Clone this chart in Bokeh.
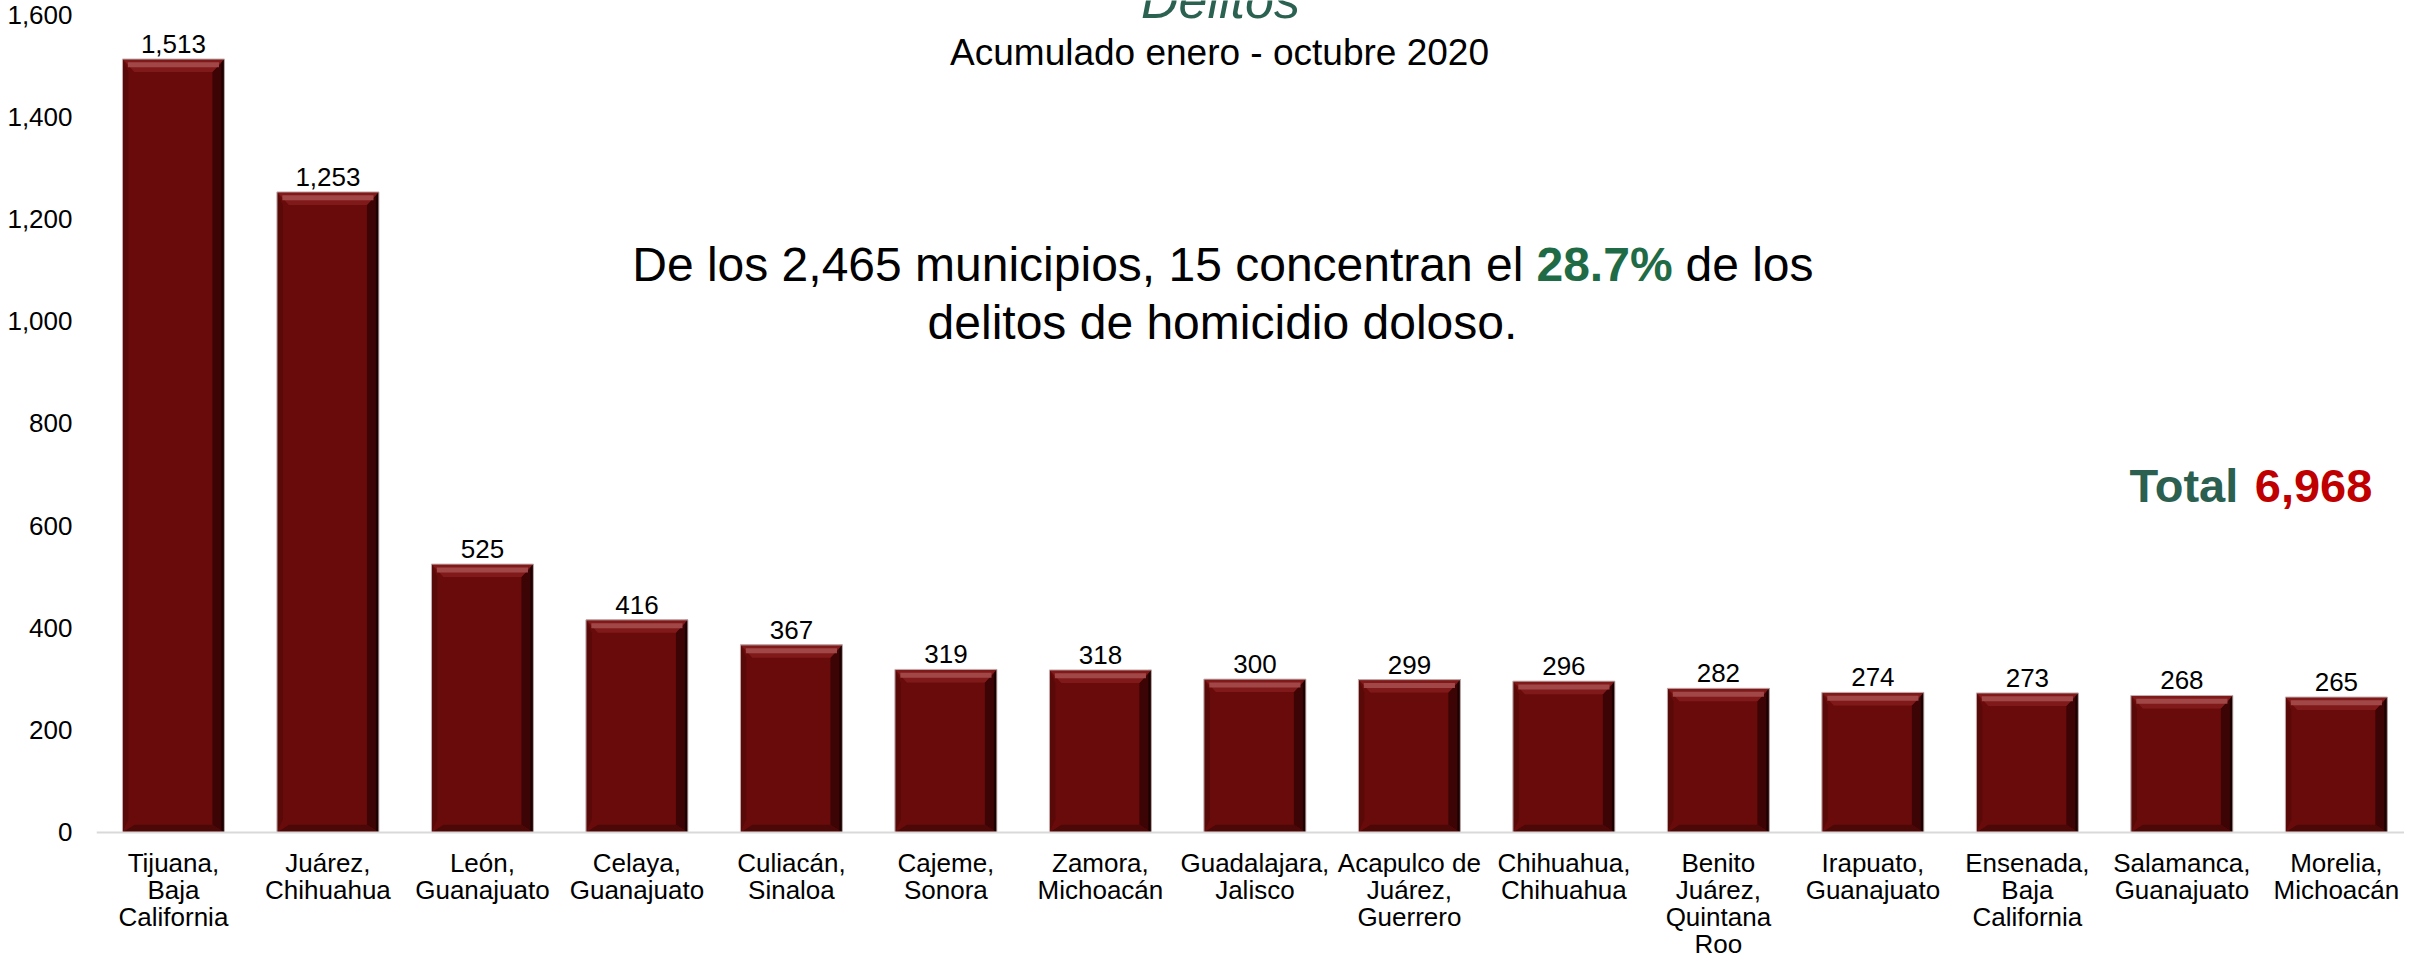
from bokeh.plotting import figure
from bokeh.models import ColumnDataSource, Range1d, FixedTicker, NumeralTickFormatter, Label, Span
from bokeh.core.properties import value
from bokeh.embed import file_html
from bokeh.resources import INLINE

# ---------------- data ----------------
municipios = [
    "Tijuana,\nBaja\nCalifornia",
    "Juárez,\nChihuahua",
    "León,\nGuanajuato",
    "Celaya,\nGuanajuato",
    "Culiacán,\nSinaloa",
    "Cajeme,\nSonora",
    "Zamora,\nMichoacán",
    "Guadalajara,\nJalisco",
    "Acapulco de\nJuárez,\nGuerrero",
    "Chihuahua,\nChihuahua",
    "Benito\nJuárez,\nQuintana\nRoo",
    "Irapuato,\nGuanajuato",
    "Ensenada,\nBaja\nCalifornia",
    "Salamanca,\nGuanajuato",
    "Morelia,\nMichoacán",
]
homicidios = [1513, 1253, 525, 416, 367, 319, 318, 300, 299, 296, 282, 274, 273, 268, 265]
y_ticks = [0, 200, 400, 600, 800, 1000, 1200, 1400, 1600]

titulo = "Delitos"
subtitulo = "Acumulado enero - octubre 2020"
nota_1 = "De los 2,465 municipios, 15 concentran el"
nota_pct = "28.7%"
nota_2 = "de los"
nota_3 = "delitos de homicidio doloso."
total_txt = "Total"
total_val = "6,968"

FONT = "Liberation Sans"

# ---------------- derived positions (from data) ----------------
idx = list(range(len(municipios)))
bar_w = 0.66
half = bar_w / 2
px_x = 1 / 154.5          # one screen pixel in x units
px_y = 1 / 0.51125        # one screen pixel in y units
bdx = 12 * px_x
bdy = 13 * px_y

src = ColumnDataSource(dict(
    x=idx, top=homicidios, lab=municipios,
    val=[f"{v:,}" for v in homicidios],
))

p = figure(width=2404, height=958,
           x_range=Range1d(-0.498, 14.441), y_range=Range1d(-246.5, 1627.4),
           x_axis_location=None, y_axis_location="left",
           toolbar_location=None, output_backend="svg",
           min_border_left=96, min_border_right=0, min_border_top=0, min_border_bottom=0)
p.outline_line_color = None
p.background_fill_color = "#ffffff"
p.border_fill_color = "#ffffff"
p.xgrid.visible = False
p.ygrid.visible = False

ax = p.yaxis[0]
ax.ticker = FixedTicker(ticks=y_ticks)
ax.formatter = NumeralTickFormatter(format="0,0")
ax.axis_line_color = None
ax.major_tick_line_color = None
ax.minor_tick_line_color = None
ax.major_tick_out = 0
ax.major_tick_in = 0
ax.major_label_standoff = 24
ax.major_label_text_font = FONT
ax.major_label_text_font_size = "26px"
ax.major_label_text_color = "#000000"

# baseline
p.add_layout(Span(location=0, dimension="width", line_color="#d9d9d9", line_width=2))

# main bars
p.vbar(x="x", top="top", bottom=0, width=bar_w, source=src,
       fill_color="#6a0b0b", line_color=None)

# bevel pieces
left_xs, left_ys, right_xs, right_ys, bot_xs, bot_ys, top_xs, top_ys = [], [], [], [], [], [], [], []
hl_xs, hl_ys, edge_x, edge_top = [], [], [], []
for i, v in zip(idx, homicidios):
    l, r = i - half, i + half
    left_xs.append([l, l + bdx * 0.5, l + bdx * 0.5, l]); left_ys.append([v, v - bdy, bdy, 0])
    right_xs.append([r, r - bdx, r - bdx, r]); right_ys.append([v, v - bdy, bdy * 0.6, 0])
    bot_xs.append([l, r, r - bdx, l + bdx]); bot_ys.append([0, 0, bdy * 0.6, bdy * 0.6])
    top_xs.append([l, r, r - bdx, l + bdx]); top_ys.append([v, v, v - bdy, v - bdy])
    hl_xs.append([l + bdx * 0.45, r - bdx * 0.45]); hl_ys.append([v - bdy * 0.45, v - bdy * 0.45])
    edge_x.append(r - 1.5 * px_x); edge_top.append(v)

p.patches(left_xs, left_ys, fill_color="#5a0909", line_color=None)
p.patches(right_xs, right_ys, fill_color="#3c0404", line_color=None)
p.vbar(x=edge_x, top=edge_top, bottom=0, width=3 * px_x, fill_color="#1c0000", line_color=None)
p.patches(bot_xs, bot_ys, fill_color="#4c0707", line_color=None)
p.patches(top_xs, top_ys, fill_color="#801a1a", line_color=None)
p.multi_line(hl_xs, hl_ys, line_color="#a54c4c", line_width=5, line_alpha=0.9)

# thin outline
p.vbar(x="x", top="top", bottom=0, width=bar_w, source=src,
       fill_color=None, line_color="#c4b4b4", line_width=1)

# value labels
p.text(x="x", y="top", text="val", source=src, text_align="center",
       text_baseline="alphabetic", y_offset=-15,
       text_font=value(FONT), text_font_size="26px", text_color="#000000")

# category labels
p.text(x="x", y=0, text="lab", source=src, text_align="center",
       text_baseline="top", y_offset=16, text_line_height=0.9,
       text_font=value(FONT), text_font_size="26px", text_color="#000000")

# titles / annotations
p.add_layout(Label(x=6.777, y=1629.3, text=titulo, text_align="center", text_baseline="alphabetic",
                   text_font=FONT, text_font_size="52px", text_font_style="italic", text_color="#2a6151"))
p.add_layout(Label(x=6.771, y=1525.6, text=subtitulo, text_align="center", text_baseline="alphabetic",
                   text_font=FONT, text_font_size="37px", text_color="#000000"))
p.add_layout(Label(x=8.738, y=1111.0, text=nota_1, text_align="right", text_baseline="alphabetic",
                   text_font=FONT, text_font_size="48px", text_color="#000000"))
p.add_layout(Label(x=9.263, y=1111.0, text=nota_pct, text_align="center", text_baseline="alphabetic",
                   text_font=FONT, text_font_size="48px", text_font_style="bold", text_color="#1e6b45"))
p.add_layout(Label(x=9.787, y=1111.0, text=nota_2, text_align="left", text_baseline="alphabetic",
                   text_font=FONT, text_font_size="48px", text_color="#000000"))
p.add_layout(Label(x=6.790, y=997.0, text=nota_3, text_align="center", text_baseline="alphabetic",
                   text_font=FONT, text_font_size="48px", text_color="#000000"))
p.add_layout(Label(x=12.661, y=678.7, text=total_txt, text_align="left", text_baseline="alphabetic",
                   text_font=FONT, text_font_size="47px", text_font_style="bold", text_color="#2b5f4f"))
p.add_layout(Label(x=14.233, y=678.7, text=total_val, text_align="right", text_baseline="alphabetic",
                   text_font=FONT, text_font_size="47px", text_font_style="bold", text_color="#c00000"))

open("out.html", "w").write(file_html(p, INLINE))
